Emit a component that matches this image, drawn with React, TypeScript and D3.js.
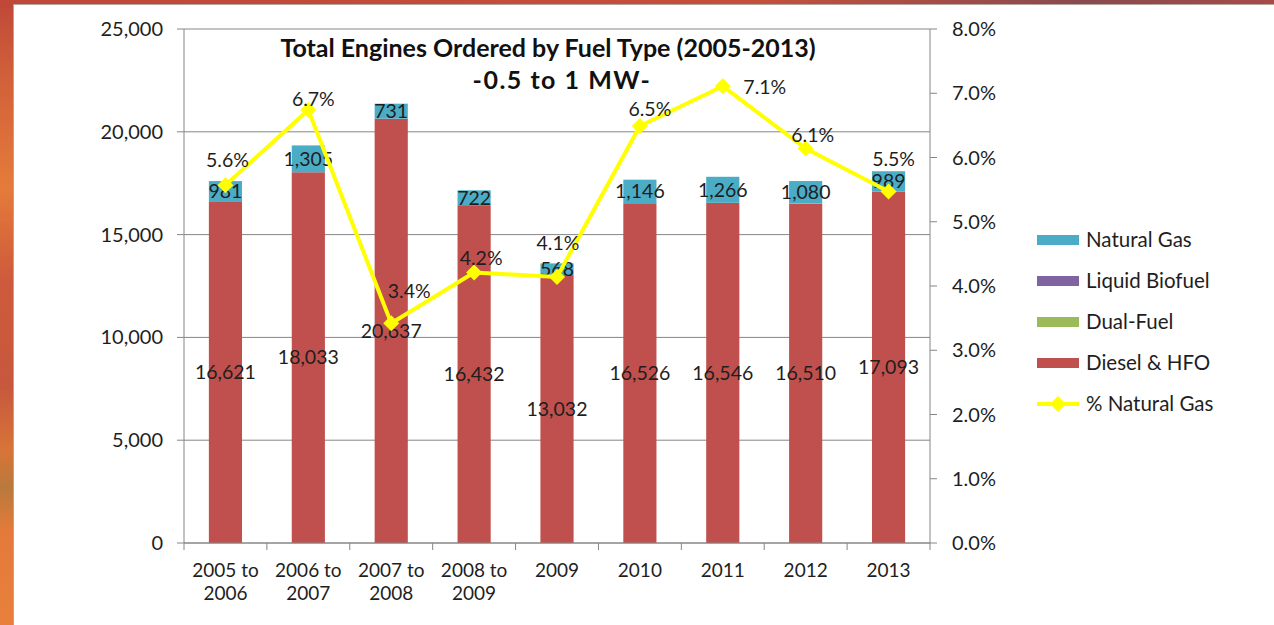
import React from "react";
import * as d3 from "d3";

const categories = [
  ["2005 to", "2006"],
  ["2006 to", "2007"],
  ["2007 to", "2008"],
  ["2008 to", "2009"],
  ["2009"],
  ["2010"],
  ["2011"],
  ["2012"],
  ["2013"],
];
const dieselHFO = [16621, 18033, 20637, 16432, 13032, 16526, 16546, 16510, 17093];
const dualFuel = [0, 0, 0, 0, 0, 0, 0, 15, 0];
const liquidBiofuel = [0, 0, 0, 0, 0, 0, 0, 0, 0];
const naturalGas = [981, 1305, 731, 722, 568, 1146, 1266, 1080, 989];
const pctNaturalGas = [5.57, 6.74, 3.42, 4.21, 4.14, 6.49, 7.11, 6.14, 5.47];
const leftTicks = [0, 5000, 10000, 15000, 20000, 25000];
const rightTicks = [0, 1, 2, 3, 4, 5, 6, 7, 8];
const titleLines = ["Total Engines Ordered by Fuel Type (2005-2013)", "-0.5 to 1 MW-"];
const seriesNames = ["Natural Gas", "Liquid Biofuel", "Dual-Fuel", "Diesel & HFO", "% Natural Gas"];

// label placement offsets (layout, not data)
const pctLabelOffsets: [number, number][] = [
  [2, -25], [5, -11], [18, -32], [7, -14], [1, -34], [10, -17], [42, 1], [7, -13], [5, -32],
];

const COLORS = {
  gas: "#4bacc6",
  bio: "#8064a2",
  dual: "#9bbb59",
  diesel: "#c0504d",
  line: "#ffff00",
  axis: "#868686",
  text: "#1e1e1e",
};

const FONT = "Lato, 'Open Sans', sans-serif";

export default function App() {
  const W = 1274, H = 625;
  const left = 184, right = 930, top = 29, bottom = 543;
  const keys = categories.map((c) => c.join(" "));
  const x = d3.scaleBand<string>().domain(keys).range([left, right]).paddingInner(0.6).paddingOuter(0.3);
  const y = d3.scaleLinear().domain([0, 25000]).range([bottom, top]);
  const y2 = d3.scaleLinear().domain([0, 8]).range([bottom, top]);
  const step = x.step();
  const fmt = d3.format(",");

  const stackRows = keys.map((k, i) => ({
    key: k,
    diesel: dieselHFO[i],
    dual: dualFuel[i],
    bio: liquidBiofuel[i],
    gas: naturalGas[i],
  }));
  const stack = d3.stack<any>().keys(["diesel", "dual", "bio", "gas"])(stackRows);
  const colorOf: Record<string, string> = { diesel: COLORS.diesel, dual: COLORS.dual, bio: COLORS.bio, gas: COLORS.gas };

  const cx = (i: number) => (x(keys[i]) as number) + x.bandwidth() / 2;
  const linePts: [number, number][] = pctNaturalGas.map((p, i) => [cx(i), y2(p)]);
  const lineGen = d3.line();
  const diamond = (px: number, py: number, r: number) =>
    `M${px},${py - r}L${px + r},${py}L${px},${py + r}L${px - r},${py}Z`;

  const legendY = [240, 281, 322, 363, 404];
  const legendColors = [COLORS.gas, COLORS.bio, COLORS.dual, COLORS.diesel];
  const titleX = [548, 562];

  return (
    <div style={{ position: "absolute", left: 0, top: 0 }}>
      <svg width={W} height={H} style={{ display: "block" }} fontFamily={FONT}>
        <defs>
          <linearGradient id="frameV" x1="0" y1="0" x2="0" y2="1">
            <stop offset="0" stopColor="#bf4838" />
            <stop offset="0.12" stopColor="#d0603a" />
            <stop offset="0.3" stopColor="#e57b3a" />
            <stop offset="0.45" stopColor="#cd5a3c" />
            <stop offset="0.62" stopColor="#c7583e" />
            <stop offset="0.72" stopColor="#d87437" />
            <stop offset="0.78" stopColor="#b87a3c" />
            <stop offset="0.85" stopColor="#e47a3a" />
            <stop offset="1" stopColor="#e8803c" />
          </linearGradient>
          <linearGradient id="frameH" x1="0" y1="0" x2="1" y2="0">
            <stop offset="0" stopColor="#bf4838" />
            <stop offset="0.6" stopColor="#c4503c" />
            <stop offset="0.85" stopColor="#8a4a50" />
            <stop offset="1" stopColor="#a84a48" />
          </linearGradient>
        </defs>
        <rect x={0} y={0} width={W} height={H} fill="url(#frameV)" />
        <rect x={0} y={0} width={W} height={8} fill="url(#frameH)" />
        <rect x={13.5} y={4.5} width={W - 13} height={H} fill="#ffffff" stroke="#b0a8a0" strokeWidth={1} />

        {/* gridlines */}
        {leftTicks.map((t) => (
          <line key={"g" + t} x1={left - 7} x2={right} y1={y(t)} y2={y(t)} stroke={COLORS.axis} strokeWidth={1} />
        ))}

        {/* bars */}
        {stack.map((s) =>
          s.map((d, i) =>
            d[1] - d[0] > 0 ? (
              <rect
                key={s.key + i}
                x={x(keys[i])}
                y={y(d[1])}
                width={x.bandwidth()}
                height={y(d[0]) - y(d[1])}
                fill={colorOf[s.key]}
              />
            ) : null
          )
        )}

        {/* axes */}
        <line x1={left} x2={left} y1={top} y2={bottom} stroke={COLORS.axis} />
        <line x1={right} x2={right} y1={top} y2={bottom} stroke={COLORS.axis} />
        <line x1={left} x2={right} y1={bottom} y2={bottom} stroke={COLORS.axis} />
        {rightTicks.map((t) => (
          <line key={"rt" + t} x1={right} x2={right + 7} y1={y2(t)} y2={y2(t)} stroke={COLORS.axis} />
        ))}
        {d3.range(keys.length + 1).map((i) => (
          <line key={"xt" + i} x1={left + i * step} x2={left + i * step} y1={bottom} y2={bottom + 7} stroke={COLORS.axis} />
        ))}

        {/* left tick labels */}
        {leftTicks.map((t) => (
          <text key={"lt" + t} x={163} y={y(t)} dy="0.35em" textAnchor="end" fontSize={20} fill={COLORS.text}>
            {fmt(t)}
          </text>
        ))}
        {/* right tick labels */}
        {rightTicks.map((t) => (
          <text key={"rl" + t} x={952} y={y2(t)} dy="0.35em" textAnchor="start" fontSize={20} fill={COLORS.text}>
            {t.toFixed(1) + "%"}
          </text>
        ))}
        {/* category labels */}
        {categories.map((c, i) => (
          <text key={"cl" + i} x={cx(i)} textAnchor="middle" fontSize={19} fill={COLORS.text}>
            {c.map((ln, j) => (
              <tspan key={j} x={cx(i)} y={570 + j * 23} dy="0.35em">
                {ln}
              </tspan>
            ))}
          </text>
        ))}

        {/* bar value labels */}
        {dieselHFO.map((v, i) => (
          <text key={"dl" + i} x={cx(i)} y={(y(0) + y(v)) / 2} dy="0.35em" textAnchor="middle" fontSize={19.5} fill={COLORS.text}>
            {fmt(v)}
          </text>
        ))}
        {naturalGas.map((v, i) => {
          const base = dieselHFO[i] + dualFuel[i] + liquidBiofuel[i];
          return (
            <text key={"gl" + i} x={cx(i)} y={(y(base) + y(base + v)) / 2} dy="0.35em" textAnchor="middle" fontSize={19.5} fill={COLORS.text}>
              {fmt(v)}
            </text>
          );
        })}

        {/* % natural gas line */}
        <path d={lineGen(linePts) || ""} fill="none" stroke={COLORS.line} strokeWidth={4} strokeLinejoin="round" />
        {linePts.map(([px, py], i) => (
          <path key={"m" + i} d={diamond(px, py, 8)} fill={COLORS.line} />
        ))}
        {pctNaturalGas.map((p, i) => (
          <text
            key={"pl" + i}
            x={linePts[i][0] + pctLabelOffsets[i][0]}
            y={linePts[i][1] + pctLabelOffsets[i][1]}
            dy="0.35em"
            textAnchor="middle"
            fontSize={19.5}
            fill={COLORS.text}
          >
            {p.toFixed(1) + "%"}
          </text>
        ))}

        {/* title */}
        {titleLines.map((t, i) => (
          <text
            key={"t" + i}
            x={titleX[i]}
            y={48 + i * 32}
            dy="0.35em"
            textAnchor="middle"
            fontSize={25}
            fontWeight="bold"
            letterSpacing={i === 1 ? 1.5 : 0}
            fill="#111"
          >
            {t}
          </text>
        ))}

        {/* legend */}
        {seriesNames.map((n, i) => (
          <g key={"lg" + i}>
            {i < 4 ? (
              <rect x={1037} y={legendY[i] - 5} width={42} height={10} fill={legendColors[i]} />
            ) : (
              <>
                <line x1={1037} x2={1079} y1={legendY[i]} y2={legendY[i]} stroke={COLORS.line} strokeWidth={4} />
                <path d={diamond(1058, legendY[i], 8)} fill={COLORS.line} />
              </>
            )}
            <text x={1086} y={legendY[i]} dy="0.35em" fontSize={20.5} fill={COLORS.text}>
              {n}
            </text>
          </g>
        ))}
      </svg>
    </div>
  );
}
